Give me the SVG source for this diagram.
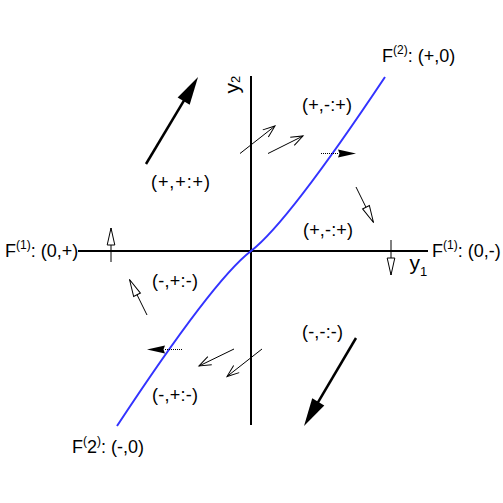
<svg xmlns="http://www.w3.org/2000/svg" width="503" height="503" viewBox="0 0 503 503">
<style>
text{font-family:"Liberation Sans",Arial,sans-serif;font-size:18px;fill:#000}
.sup{font-size:12px}
.ax{font-size:21px}
.sub{font-size:13px}
.axis{stroke:#000;stroke-width:2;fill:none}
.curve{stroke:#3333ff;stroke-width:2;fill:none}
.thin{stroke:#000;stroke-width:1;fill:none}
.big{stroke:#000;stroke-width:2.5;fill:none}
.dot{stroke:#000;stroke-width:1;stroke-dasharray:1 1;fill:none}
</style>
<defs>
<marker id="mHollow" markerUnits="userSpaceOnUse" markerWidth="20" markerHeight="10" refX="0" refY="0" orient="auto" overflow="visible">
<path d="M-17,-3.8 L0,0 L-17,3.8 Z" fill="#fff" stroke="#000" stroke-width="1"/>
</marker>
<marker id="mBig" markerUnits="userSpaceOnUse" markerWidth="30" markerHeight="16" refX="0" refY="0" orient="auto" overflow="visible">
<path d="M-18,-7 L10,0 L-18,7 Z" fill="#000"/>
</marker>
<marker id="mFill" markerUnits="userSpaceOnUse" markerWidth="20" markerHeight="10" refX="0" refY="0" orient="auto" overflow="visible">
<path d="M0,-4 L18,0 L0,4 L1.5,0 Z" fill="#000"/>
</marker>
<marker id="mBarb" markerUnits="userSpaceOnUse" markerWidth="14" markerHeight="10" refX="0" refY="0" orient="auto" overflow="visible">
<path d="M-12,-4.5 L0,0 L-12,4.5" fill="none" stroke="#000" stroke-width="1"/>
</marker>
</defs>

<g id="axes">
<path class="axis" d="M78,251 H428"/>
<path class="axis" d="M251,76 V425"/>
</g>

<g id="curve">
<path class="curve" d="M117,426 C171,344 221,274 251,251 C281,228 331,158 385,77"/>
</g>

<g id="connectors">
<path class="big" d="M146,164 L192.9,85.6" marker-end="url(#mBig)"/>
<path class="big" d="M356,338 L309.1,417.4" marker-end="url(#mBig)"/>
<path class="dot" d="M321,153.5 H338" marker-end="url(#mFill)"/>
<path class="dot" d="M182,349.5 H165" marker-end="url(#mFill)"/>
<path class="thin" d="M240,153.5 L275,126" marker-end="url(#mBarb)"/>
<path class="thin" d="M268,153.5 L303,136" marker-end="url(#mBarb)"/>
<path class="thin" d="M262,349 L227,376.5" marker-end="url(#mBarb)"/>
<path class="thin" d="M234,349 L199,366" marker-end="url(#mBarb)"/>
<path class="thin" d="M111,262 L111,228" marker-end="url(#mHollow)"/>
<path class="thin" d="M391,240 L391,275" marker-end="url(#mHollow)"/>
<path class="thin" d="M147,315 L129.5,279.5" marker-end="url(#mHollow)"/>
<path class="thin" d="M356,187 L373.5,222.5" marker-end="url(#mHollow)"/>
</g>

<g id="labels">
<text id="F2plus" x="382" y="62">F<tspan class="sup" dy="-8">(2)</tspan><tspan dy="8">: (+,0)</tspan></text>
<text id="F1plus" x="5" y="257">F<tspan class="sup" dy="-8">(1)</tspan><tspan dy="8">: (0,+)</tspan></text>
<text id="F1minus" x="432" y="257">F<tspan class="sup" dy="-8">(1)</tspan><tspan dy="8">: (0,-)</tspan></text>
<text id="F2minus" x="72" y="453">F<tspan class="sup" dy="-8">(</tspan><tspan dy="8">2</tspan><tspan class="sup" dy="-8">)</tspan><tspan dy="8">: (-,0)</tspan></text>
<text id="y1" class="ax" x="409.5" y="270">y<tspan class="sub" dy="6">1</tspan></text>
<text id="y2" class="ax" transform="translate(238.5,93.5) rotate(-90)">y<tspan class="sub" dy="1">2</tspan></text>
<text id="r1" x="302" y="111" textLength="50" lengthAdjust="spacing">(+,-:+)</text>
<text id="r2" x="151" y="188" textLength="59" lengthAdjust="spacing">(+,+:+)</text>
<text id="r3" x="303" y="236" textLength="50" lengthAdjust="spacing">(+,-:+)</text>
<text id="r4" x="152" y="287" textLength="46" lengthAdjust="spacing">(-,+:-)</text>
<text id="r5" x="302" y="338" textLength="41" lengthAdjust="spacing">(-,-:-)</text>
<text id="r6" x="152" y="401" textLength="46" lengthAdjust="spacing">(-,+:-)</text>
</g>
</svg>
